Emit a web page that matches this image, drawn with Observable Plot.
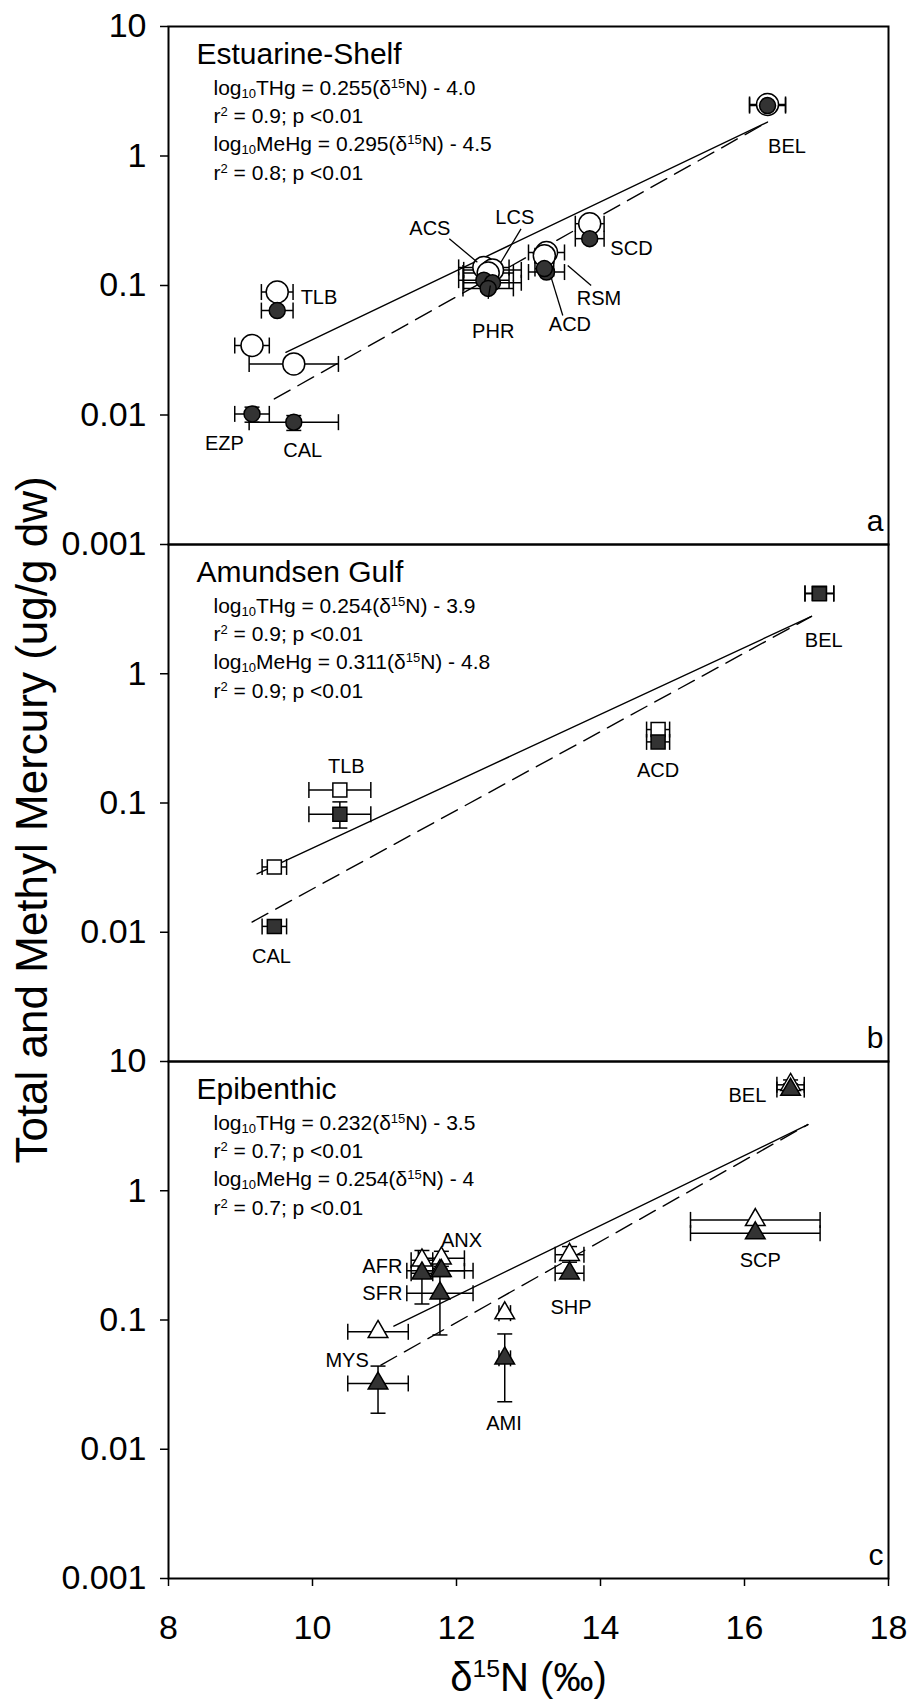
<!DOCTYPE html>
<html>
<head>
<meta charset="utf-8">
<script src="https://cdn.jsdelivr.net/npm/d3@7"></script>
<script src="https://cdn.jsdelivr.net/npm/@observablehq/plot@0.6"></script>
<style>
html, body { margin: 0; padding: 0; background: #fff; }
#chart { position: relative; width: 909px; height: 1703px; font-family: "Liberation Sans", Arial, sans-serif; }
</style>
</head>
<body>
<div id="chart"></div>
<script>
// ---------- axis ticks ----------
const xTicks = [8, 10, 12, 14, 16, 18];
const xTickLabels = ["8", "10", "12", "14", "16", "18"];
const yTicksFull = [10, 1, 0.1, 0.01, 0.001];
const yTickLabels = ["10", "1", "0.1", "0.01", "0.001"];
const yTicksMid = [1, 0.1, 0.01];
const xTitle = "δ^{15}N (‰)";
const yTitle = "Total and Methyl Mercury (ug/g dw)";

// ---------- panel texts ----------
const panelLetters = ["a", "b", "c"];
const panelTitles = ["Estuarine-Shelf", "Amundsen Gulf", "Epibenthic"];
const eqTHg = ["log_{10}THg = 0.255(δ^{15}N) - 4.0", "log_{10}THg = 0.254(δ^{15}N) - 3.9", "log_{10}THg = 0.232(δ^{15}N) - 3.5"];
const statTHg = ["r^{2} = 0.9; p <0.01", "r^{2} = 0.9; p <0.01", "r^{2} = 0.7; p <0.01"];
const eqMeHg = ["log_{10}MeHg = 0.295(δ^{15}N) - 4.5", "log_{10}MeHg = 0.311(δ^{15}N) - 4.8", "log_{10}MeHg = 0.254(δ^{15}N) - 4"];
const statMeHg = ["r^{2} = 0.8; p <0.01", "r^{2} = 0.9; p <0.01", "r^{2} = 0.7; p <0.01"];

// ---------- panel a: Estuarine-Shelf ----------
const aSpecies = ["BEL", "SCD", "ACD", "RSM", "ACS", "LCS", "PHR", "TLB", "EZP", "CAL"];
const aD15N    = [16.32, 13.85, 13.25, 13.22, 12.38, 12.50, 12.44, 9.51, 9.16, 9.74];
const aD15Nsd  = [0.25, 0.20, 0.25, 0.13, 0.35, 0.40, 0.35, 0.22, 0.24, 0.62];
const aTHg     = [2.5, 0.30, 0.18, 0.17, 0.138, 0.132, 0.125, 0.089, 0.0344, 0.0248];
const aMeHg    = [2.45, 0.23, 0.127, 0.135, 0.11, 0.105, 0.095, 0.064, 0.0102, 0.0088];
const aMeHgLo  = [null, null, null, null, null, null, null, null, 0.0088, 0.0076];
const aMeHgHi  = [null, null, null, null, null, null, null, null, 0.0115, 0.0099];
const aLabelX  = [16.59, 14.43, 13.575, 13.98, 11.63, 12.81, 12.51, 10.09, 8.776, 9.864];
const aLabelY  = [1.176, 0.192, 0.050, 0.0798, 0.274, 0.336, 0.0442, 0.0813, 0.00598, 0.00532];
const aLeaderSp = ["ACS", "LCS", "PHR", "ACD", "RSM"];
const aLeaderX1 = [11.90, 12.896, 12.44, 13.476, 13.87];
const aLeaderY1 = [0.2296, 0.274, 0.0789, 0.0586, 0.100];
const aLeaderX2 = [12.29, 12.617, 12.47, 13.313, 13.545];
const aLeaderY2 = [0.1513, 0.1513, 0.100, 0.116, 0.1426];
const aFitTHgX  = [9.63, 16.32];
const aFitTHgY  = [0.0305, 1.83];
const aFitMeHgX = [9.47, 16.32];
const aFitMeHgY = [0.0133, 1.83];

// ---------- panel b: Amundsen Gulf ----------
const bSpecies = ["BEL", "ACD", "TLB", "CAL"];
const bD15N    = [17.04, 14.80, 10.38, 9.47];
const bD15Nsd  = [0.20, 0.16, 0.43, 0.17];
const bTHg     = [4.2, 0.37, 0.126, 0.032];
const bMeHg    = [4.16, 0.297, 0.082, 0.0111];
const bMeHgLo  = [null, null, 0.064, null];
const bMeHgHi  = [null, null, 0.102, null];
const bLabelX  = [17.10, 14.80, 10.47, 9.43];
const bLabelY  = [1.81, 0.178, 0.19, 0.00647];
const bFitTHgX  = [9.23, 16.93];
const bFitTHgY  = [0.0283, 2.78];
const bFitMeHgX = [9.16, 16.93];
const bFitMeHgY = [0.0120, 2.78];

// ---------- panel c: Epibenthic ----------
const cSpecies = ["BEL", "SCP", "SHP", "AMI", "ANX", "AFR", "SFR", "MYS"];
const cD15N    = [16.64, 16.15, 13.57, 12.67, 11.79, 11.52, 11.77, 10.91];
const cD15Nsd  = [0.19, 0.90, 0.20, 0.08, 0.32, 0.15, 0.46, 0.42];
const cTHg     = [6.6, 0.595, 0.32, 0.113, 0.30, 0.29, 0.24, 0.081];
const cMeHg    = [6.06, 0.47, 0.23, 0.0505, 0.24, 0.23, 0.161, 0.0323];
const cTHgLo   = [6.0, null, 0.28, null, 0.26, null, null, null];
const cTHgHi   = [7.2, null, 0.37, null, 0.34, null, null, null];
const cMeHgLo  = [5.5, null, null, 0.0233, null, 0.133, 0.0766, 0.019];
const cMeHgHi  = [6.7, null, null, 0.078, null, 0.345, 0.25, 0.044];
const cLabelX  = [16.04, 16.22, 13.59, 12.66, 12.07, 10.97, 10.97, 10.48];
const cLabelY  = [5.46, 0.288, 0.1256, 0.01574, 0.41, 0.26, 0.161, 0.0486];
const cFitTHgX  = [11.13, 16.88];
const cFitTHgY  = [0.0897, 3.25];
const cFitMeHgX = [10.95, 16.88];
const cFitMeHgY = [0.0448, 3.25];

// ---------- helpers ----------
const vCap = {draw(ctx, size) { const h = Math.sqrt(size / Math.PI); ctx.moveTo(0, -h); ctx.lineTo(0, h); }};
const hCap = {draw(ctx, size) { const h = Math.sqrt(size / Math.PI); ctx.moveTo(-h, 0); ctx.lineTo(h, 0); }};
const fmtFrom = (vals, labs) => d => labs[vals.indexOf(d)] ?? "";
const FONT = "Liberation Sans, Arial, sans-serif";
const EQ_SIZE = 21;

function richify(root) {
  root.querySelectorAll("text").forEach(t => {
    const s = t.textContent;
    if (!/[_^]\{/.test(s) || t.querySelector("tspan")) return;
    const fs = parseFloat(getComputedStyle(t).fontSize) || 16;
    const parts = s.split(/([_^]\{[^}]*\})/);
    t.textContent = "";
    let shift = 0;
    for (const p of parts) {
      if (!p) continue;
      const ts = document.createElementNS("http://www.w3.org/2000/svg", "tspan");
      let target = 0, txt = p, small = false;
      if (p.startsWith("_{")) { target = 0.16 * fs; txt = p.slice(2, -1); small = true; }
      else if (p.startsWith("^{")) { target = -0.34 * fs; txt = p.slice(2, -1); small = true; }
      const dy = target - shift; shift = target;
      if (dy) ts.setAttribute("dy", dy.toFixed(2));
      if (small) ts.setAttribute("font-size", (0.62 * fs).toFixed(2));
      ts.textContent = txt;
      t.appendChild(ts);
    }
  });
}

function panelPlot(cfg) {
  const pts = [];
  cfg.species.forEach((s, i) => {
    pts.push({sp: s, kind: "THg", x: cfg.d15N[i], sd: cfg.sd[i], v: cfg.THg[i],
      lo: cfg.THgLo ? cfg.THgLo[i] : null, hi: cfg.THgHi ? cfg.THgHi[i] : null});
    pts.push({sp: s, kind: "MeHg", x: cfg.d15N[i], sd: cfg.sd[i], v: cfg.MeHg[i],
      lo: cfg.MeHgLo ? cfg.MeHgLo[i] : null, hi: cfg.MeHgHi ? cfg.MeHgHi[i] : null});
  });
  const yErr = pts.filter(d => d.lo != null);
  const labels = cfg.species.map((s, i) => ({sp: s, x: cfg.labelX[i], y: cfg.labelY[i]}));
  const fitT = cfg.fitTX.map((x, i) => ({x, y: cfg.fitTY[i]}));
  const fitM = cfg.fitMX.map((x, i) => ({x, y: cfg.fitMY[i]}));
  const leaders = (cfg.leaderSp || []).map((s, i) => ({sp: s, x1: cfg.lx1[i], y1: cfg.ly1[i], x2: cfg.lx2[i], y2: cfg.ly2[i]}));
  const k = cfg.index;
  const eqOpts = {frameAnchor: "top-left", dx: 45, fontSize: EQ_SIZE, textAnchor: "start", lineAnchor: "bottom", fill: "black"};
  const marks = [
    Plot.frame({stroke: "black", strokeWidth: 2}),
    Plot.axisY(cfg.yTicks, {tickSize: 8, tickPadding: 14, fontSize: 34, strokeWidth: 1.5,
      tickFormat: fmtFrom(yTicksFull, yTickLabels), label: null}),
    Plot.line(fitT, {x: "x", y: "y", stroke: "black", strokeWidth: 1.4}),
    Plot.line(fitM, {x: "x", y: "y", stroke: "black", strokeWidth: 1.4, strokeDasharray: "18,9"}),
    Plot.link(pts, {x1: d => d.x - d.sd, x2: d => d.x + d.sd, y1: "v", y2: "v", stroke: "black", strokeWidth: 1.5}),
    Plot.dot(pts, {x: d => d.x - d.sd, y: "v", symbol: vCap, r: 8, stroke: "black", fill: "none", strokeWidth: 1.5}),
    Plot.dot(pts, {x: d => d.x + d.sd, y: "v", symbol: vCap, r: 8, stroke: "black", fill: "none", strokeWidth: 1.5}),
    Plot.link(yErr, {x1: "x", x2: "x", y1: "lo", y2: "hi", stroke: "black", strokeWidth: 1.5}),
    Plot.dot(yErr, {x: "x", y: "lo", symbol: hCap, r: 7.5, stroke: "black", fill: "none", strokeWidth: 1.5}),
    Plot.dot(yErr, {x: "x", y: "hi", symbol: hCap, r: 7.5, stroke: "black", fill: "none", strokeWidth: 1.5}),
    Plot.dot(pts.filter(d => d.kind === "THg"), {x: "x", y: "v", symbol: cfg.symbol, r: cfg.rOpen, fill: "white", stroke: "black", strokeWidth: 1.5}),
    Plot.dot(pts.filter(d => d.kind === "MeHg"), {x: "x", y: "v", symbol: cfg.symbol, r: cfg.rClosed, fill: "#333", stroke: "black", strokeWidth: 1.5}),
    Plot.link(leaders, {x1: "x1", y1: "y1", x2: "x2", y2: "y2", stroke: "black", strokeWidth: 1.3}),
    Plot.text(labels, {x: "x", y: "y", text: "sp", fontSize: 20, textAnchor: "middle", lineAnchor: "middle", fill: "black"}),
    Plot.text([panelTitles[k]], {frameAnchor: "top-left", dx: 28, dy: 37, fontSize: 30, textAnchor: "start", lineAnchor: "bottom", fill: "black"}),
    Plot.text([eqTHg[k]], {...eqOpts, dy: 68.5}),
    Plot.text([statTHg[k]], {...eqOpts, dy: 96.5}),
    Plot.text([eqMeHg[k]], {...eqOpts, dy: 124.5}),
    Plot.text([statMeHg[k]], {...eqOpts, dy: 153.5}),
    Plot.text([panelLetters[k]], {frameAnchor: "bottom-right", dx: -5, dy: -14, fontSize: 30, textAnchor: "end", lineAnchor: "bottom", fill: "black"})
  ];
  if (cfg.extra) marks.push(...cfg.extra);
  return Plot.plot({
    width: 909, height: cfg.height,
    marginLeft: 168, marginRight: 21, marginTop: cfg.mt, marginBottom: cfg.mb,
    x: {domain: [8, 18], axis: cfg.xAxis ? undefined : null},
    y: {type: "log", domain: [0.001, 10]},
    style: {background: "transparent", overflow: "visible", fontFamily: FONT, position: "absolute", left: "0px", top: cfg.top + "px", color: "black"},
    marks
  });
}

const chart = document.getElementById("chart");

const svgA = panelPlot({
  index: 0, top: 0, height: 544, mt: 26, mb: 0, yTicks: yTicksFull, symbol: "circle", rOpen: 11, rClosed: 8,
  species: aSpecies, d15N: aD15N, sd: aD15Nsd, THg: aTHg, MeHg: aMeHg, MeHgLo: aMeHgLo, MeHgHi: aMeHgHi,
  labelX: aLabelX, labelY: aLabelY, fitTX: aFitTHgX, fitTY: aFitTHgY, fitMX: aFitMeHgX, fitMY: aFitMeHgY,
  leaderSp: aLeaderSp, lx1: aLeaderX1, ly1: aLeaderY1, lx2: aLeaderX2, ly2: aLeaderY2
});
const svgB = panelPlot({
  index: 1, top: 544, height: 517, mt: 0, mb: 0, yTicks: yTicksMid, symbol: "square", rOpen: 7.9, rClosed: 7.9,
  species: bSpecies, d15N: bD15N, sd: bD15Nsd, THg: bTHg, MeHg: bMeHg, MeHgLo: bMeHgLo, MeHgHi: bMeHgHi,
  labelX: bLabelX, labelY: bLabelY, fitTX: bFitTHgX, fitTY: bFitTHgY, fitMX: bFitMeHgX, fitMY: bFitMeHgY,
  extra: [
    Plot.text([yTitle], {frameAnchor: "left", rotate: -90, dx: -122, dy: 17, fontSize: 44, textAnchor: "middle", lineAnchor: "bottom", fill: "black"})
  ]
});
const svgC = panelPlot({
  index: 2, top: 1061, height: 642, mt: 0, mb: 125, yTicks: yTicksFull, symbol: "triangle", rOpen: 7.3, rClosed: 7.3, xAxis: true,
  species: cSpecies, d15N: cD15N, sd: cD15Nsd, THg: cTHg, MeHg: cMeHg, THgLo: cTHgLo, THgHi: cTHgHi, MeHgLo: cMeHgLo, MeHgHi: cMeHgHi,
  labelX: cLabelX, labelY: cLabelY, fitTX: cFitTHgX, fitTY: cFitTHgY, fitMX: cFitMeHgX, fitMY: cFitMeHgY,
  extra: [
    Plot.axisX(xTicks, {tickSize: 8, tickPadding: 28, fontSize: 34, strokeWidth: 1.5, tickFormat: fmtFrom(xTicks, xTickLabels), label: null}),
    Plot.text([xTitle], {frameAnchor: "bottom", dy: 112, fontSize: 40, textAnchor: "middle", lineAnchor: "bottom", fill: "black"})
  ]
});

chart.append(svgA, svgB, svgC);
[svgA, svgB, svgC].forEach(richify);
</script>
</body>
</html>
